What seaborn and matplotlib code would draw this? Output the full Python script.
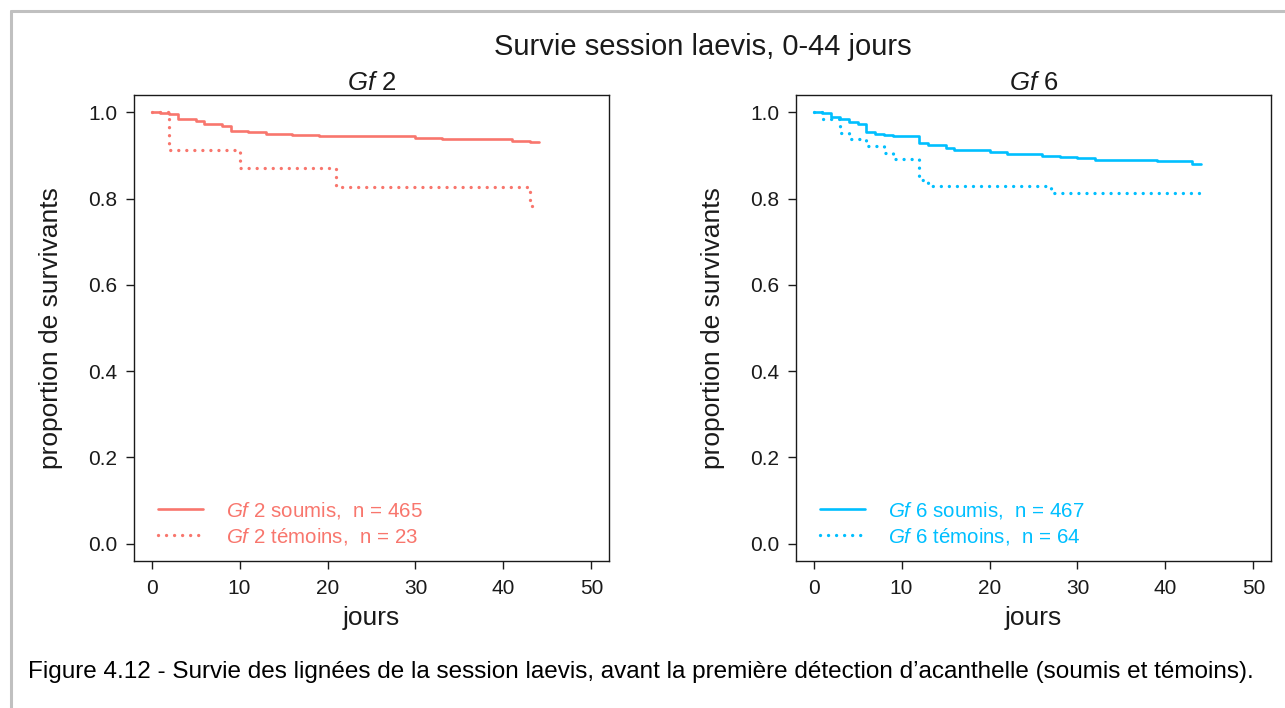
import numpy as np
import pandas as pd

import matplotlib as mpl
import matplotlib.pyplot as plt
from matplotlib.lines import Line2D
import seaborn as sns

# survival curves (time in days, proportion surviving)
gf2_soumis_t = [0, 1, 2, 3, 5, 6, 8, 9, 11, 13, 16, 19, 28, 30, 33, 34, 41, 43, 44]
gf2_soumis_s = [1.0, 0.998, 0.996, 0.985, 0.980, 0.973, 0.968, 0.957, 0.954, 0.950,
                0.948, 0.946, 0.944, 0.941, 0.939, 0.937, 0.934, 0.932, 0.932]
gf2_temoins_t = [0, 2, 10, 21, 43, 44]
gf2_temoins_s = [1.0, 0.913, 0.870, 0.826, 0.783, 0.783]

gf6_soumis_t = [0, 1, 2, 3, 4, 5, 6, 7, 8, 9, 12, 13, 15, 16, 20, 22, 26, 28, 30, 32, 39, 43, 44]
gf6_soumis_s = [1.0, 0.998, 0.988, 0.985, 0.978, 0.973, 0.954, 0.950, 0.947, 0.944, 0.928,
                0.923, 0.918, 0.913, 0.908, 0.903, 0.899, 0.896, 0.893, 0.890, 0.886, 0.879, 0.879]
gf6_temoins_t = [0, 1, 3, 4, 6, 8, 9, 12, 13, 27, 44]
gf6_temoins_s = [1.0, 0.984, 0.953, 0.938, 0.922, 0.906, 0.891, 0.844, 0.828, 0.813, 0.813]

panels = ['Gf 2', 'Gf 6']
n_soumis = [465, 467]
n_temoins = [23, 64]
colors = ['#F8766D', '#00BFFF']
x_ticks = [0, 10, 20, 30, 40, 50]
y_ticks = [0.0, 0.2, 0.4, 0.6, 0.8, 1.0]

sns.set_style('ticks')
plt.rcParams['font.family'] = ['Liberation Sans', 'DejaVu Sans']
plt.rcParams['mathtext.fontset'] = 'custom'
plt.rcParams['mathtext.rm'] = 'Liberation Sans'
plt.rcParams['mathtext.it'] = 'Liberation Sans:italic'

txt = '#1a1a1a'

fig = plt.figure(figsize=(12.85, 7.08), dpi=100)
fig.patch.set_facecolor('white')

curves = [
    (gf2_soumis_t, gf2_soumis_s, gf2_temoins_t, gf2_temoins_s),
    (gf6_soumis_t, gf6_soumis_s, gf6_temoins_t, gf6_temoins_s),
]
lefts = [134 / 1285, 796 / 1285]

for i, (st, ss, tt, ts) in enumerate(curves):
    ax = fig.add_axes([lefts[i], 1 - 561 / 708, 475 / 1285, 466 / 708])
    num = panels[i].split()[1]
    df_s = pd.DataFrame({'t': st, 's': ss})
    df_t = pd.DataFrame({'t': tt, 's': ts})
    sns.lineplot(data=df_s, x='t', y='s', ax=ax, color=colors[i], lw=1.9,
                 drawstyle='steps-post', estimator=None, sort=False,
                 label=r'$\mathit{Gf}$' + f' {num} soumis,  n = {n_soumis[i]}')
    sns.lineplot(data=df_t, x='t', y='s', ax=ax, color=colors[i], lw=2.4,
                 drawstyle='steps-post', estimator=None, sort=False,
                 dashes=False, linestyle=(0, (0.01, 2.4)), dash_capstyle='round',
                 label=r'$\mathit{Gf}$' + f' {num} témoins,  n = {n_temoins[i]}')
    ax.set_xlim(-2, 52)
    ax.set_ylim(-0.04, 1.04)
    ax.set_xticks(x_ticks)
    ax.set_yticks(y_ticks)
    ax.set_xticklabels([str(v) for v in x_ticks])
    ax.set_yticklabels([f'{v:.1f}' for v in y_ticks])
    ax.tick_params(direction='out', length=6, width=1, colors=txt, labelsize=15, pad=6)
    ax.tick_params(axis='x', pad=7)
    for sp in ax.spines.values():
        sp.set_visible(True)
        sp.set_color(txt)
        sp.set_linewidth(1)
    ax.set_xlabel('jours', fontsize=19, color=txt, labelpad=6)
    ax.set_ylabel('proportion de survivants', fontsize=19, color=txt, labelpad=18)
    ax.set_title(r'$\mathit{Gf}$' + f' {num}', fontsize=18.5, color=txt, pad=3)
    ax.grid(False)
    leg = ax.legend(loc='lower left', bbox_to_anchor=(24 / 475, 0.03), frameon=False,
                    borderaxespad=0, borderpad=0,
                    fontsize=14.8, handlelength=2.2, handletextpad=1.1, labelspacing=0.26,
                    labelcolor=colors[i])

fig.text(0.547, 1 - 47 / 708, 'Survie session laevis, 0-44 jours', ha='center', va='center',
         fontsize=21, color=txt)
fig.text(28 / 1285, 1 - 672 / 708,
         'Figure 4.12 - Survie des lignées de la session laevis, avant la première détection '
         'd\u2019acanthelle (soumis et témoins).',
         ha='left', va='center', fontsize=17.5, color='black')

# grey frame around the figure (top and left edges)
fig.add_artist(Line2D([10.5 / 1285, 1], [1 - 10.5 / 708, 1 - 10.5 / 708],
                      transform=fig.transFigure, color='#c0c0c0', lw=2.2))
fig.add_artist(Line2D([10.5 / 1285, 10.5 / 1285], [0, 1 - 10.5 / 708],
                      transform=fig.transFigure, color='#c0c0c0', lw=2.2))

fig.savefig('out.png', dpi=100)
